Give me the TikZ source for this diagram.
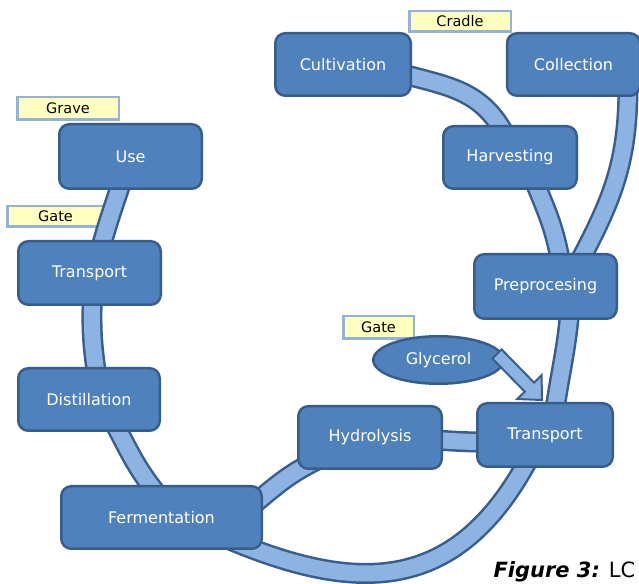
\documentclass[tikz,border=0pt]{standalone}
\usepackage{fontspec}
\setmainfont{DejaVu Sans}
\usetikzlibrary{calc, shapes.geometric, backgrounds}
\definecolor{boxfill}{HTML}{4F81BD}
\definecolor{boxline}{HTML}{385D8A}
\definecolor{bandfill}{HTML}{8DB3E2}
\definecolor{bandline}{HTML}{3A5E8C}
\definecolor{tagfill}{HTML}{FFFFC0}
\definecolor{tagline}{HTML}{95B3D7}

\begin{document}
\begin{tikzpicture}[x=1pt, y=1pt, line join=round]
        \tikzset{stage/.style={draw=boxline, fill=boxfill, line width=2.5pt, rounded corners=10pt,
                text=white, font=\fontsize{16}{19}\selectfont, minimum height=62.5pt, inner sep=0pt}}
        \tikzset{tag/.style={draw=tagline, fill=tagfill, line width=2.5pt,
                font=\fontsize{14.5}{17}\selectfont, minimum height=20.5pt, inner sep=0pt}}
        \tikzset{band/.style={draw=bandline, line width=2.5pt, double=bandfill, double distance=16pt,
                shorten <=-12pt, shorten >=-12pt}}
        \tikzset{glyarr/.style={draw=bandline, fill=bandfill, line width=2pt, line join=miter}}
        \useasboundingbox (0,0) rectangle (639,583);
        % nodes
        \node[stage, minimum width=135.5pt] (cult) at (343, 518.5) {Cultivation};
        \node[stage, minimum width=133pt] (coll) at (573.5, 518.5) {Collection};
        \node[stage, minimum width=133.5pt] (harv) at (510, 425.5) {Harvesting};
        \node[stage, minimum width=142.5pt, minimum height=64.5pt] (prep) at (545.5, 296.5) {Preprocesing};
        \node[stage, minimum width=135.5pt, minimum height=63.5pt] (trR) at (545, 148) {Transport};
        \node[stage, minimum width=143.5pt] (hydr) at (370, 145.5) {Hydrolysis};
        \node[stage, minimum width=200.5pt] (ferm) at (161.5, 65.5) {Fermentation};
        \node[stage, minimum width=141.5pt] (dist) at (89, 183.5) {Distillation};
        \node[stage, minimum width=142.5pt, minimum height=63.5pt] (trL) at (89.5, 310) {Transport};
        \node[stage, minimum width=142.5pt, minimum height=64.5pt] (use) at (130.5, 426.5) {Use};
        \node[ellipse, draw=boxline, fill=boxfill, line width=2.5pt, text=white,
              font=\fontsize{16}{19}\selectfont, minimum width=130.5pt, minimum height=47.5pt,
              inner sep=0pt] (gly) at (438.5, 223) {Glycerol};
        % glycerol feed arrow
        \coordinate (gtail) at ([xshift=-8pt, yshift=6pt]gly.east);
        \coordinate (gtip) at ([xshift=-3pt, yshift=2pt]trR.north);
        \coordinate (gbase) at ($(gtip)!18pt!(gtail)$);
        \draw[glyarr] ($(gtail)!6.5pt!90:(gtip)$) -- ($(gbase)!6.5pt!90:(gtip)$)
              -- ($(gbase)!17pt!90:(gtip)$) -- (gtip) -- ($(gbase)!17pt!-90:(gtip)$)
              -- ($(gbase)!6.5pt!-90:(gtip)$) -- ($(gtail)!6.5pt!-90:(gtip)$) -- cycle;
        \begin{pgfonlayer}{background}
            % stage labels
            \node[tag, minimum width=101.5pt] (cradle) at (460, 561.5) {Cradle};
            \node[tag, minimum width=101.5pt, minimum height=22.5pt] (grave) at (68, 474.5) {Grave};
            \node[tag, minimum width=96.5pt] (gateL) at (55.5, 366.5) {Gate};
            \node[tag, minimum width=70.5pt, minimum height=22.5pt] (gateR) at (378.5, 255.5) {Gate};
            % connecting bands, under the nodes
            \draw[band] ([yshift=-12pt]cult.east) to[out=-15, in=118] ([xshift=-10pt]harv.north);
            \draw[band] ([xshift=28pt]harv.south) to[out=-68, in=100] ([xshift=13.5pt]prep.north);
            \draw[band] ([xshift=54.5pt]coll.south) to[out=-90, in=62] ([xshift=38.5pt]prep.north);
            \draw[band] ([xshift=23.5pt]prep.south) to[out=-95, in=82] ([xshift=11pt]trR.north);
            \draw[band] ([xshift=-21pt]trR.south) to[out=-118, in=-24, looseness=1.2]
                  ([xshift=-38pt, yshift=12pt]ferm.south east);
            \draw[band] ([yshift=-3pt]hydr.east) to[out=-5, in=178] ([yshift=-7pt]trR.west);
            \draw[band] ([yshift=21pt]ferm.east) to[out=40, in=205] ([xshift=18pt, yshift=9pt]hydr.south west);
            \draw[band] ([xshift=30pt]dist.south) to[out=-62, in=128] ([xshift=-11.5pt]ferm.north);
            \draw[band] ([xshift=2.5pt]trL.south) to[out=-92, in=98] ([xshift=6.5pt]dist.north);
            \draw[band] ([xshift=-11.5pt]use.south) to[out=-108, in=75] ([xshift=13.5pt]trL.north);
        \end{pgfonlayer}
        \node[anchor=base west, font=\fontsize{21}{26}\selectfont] (cap) at (490, 6)
              {\textbf{\textit{Figure 3:}} LC};
\end{tikzpicture}
\end{document}
